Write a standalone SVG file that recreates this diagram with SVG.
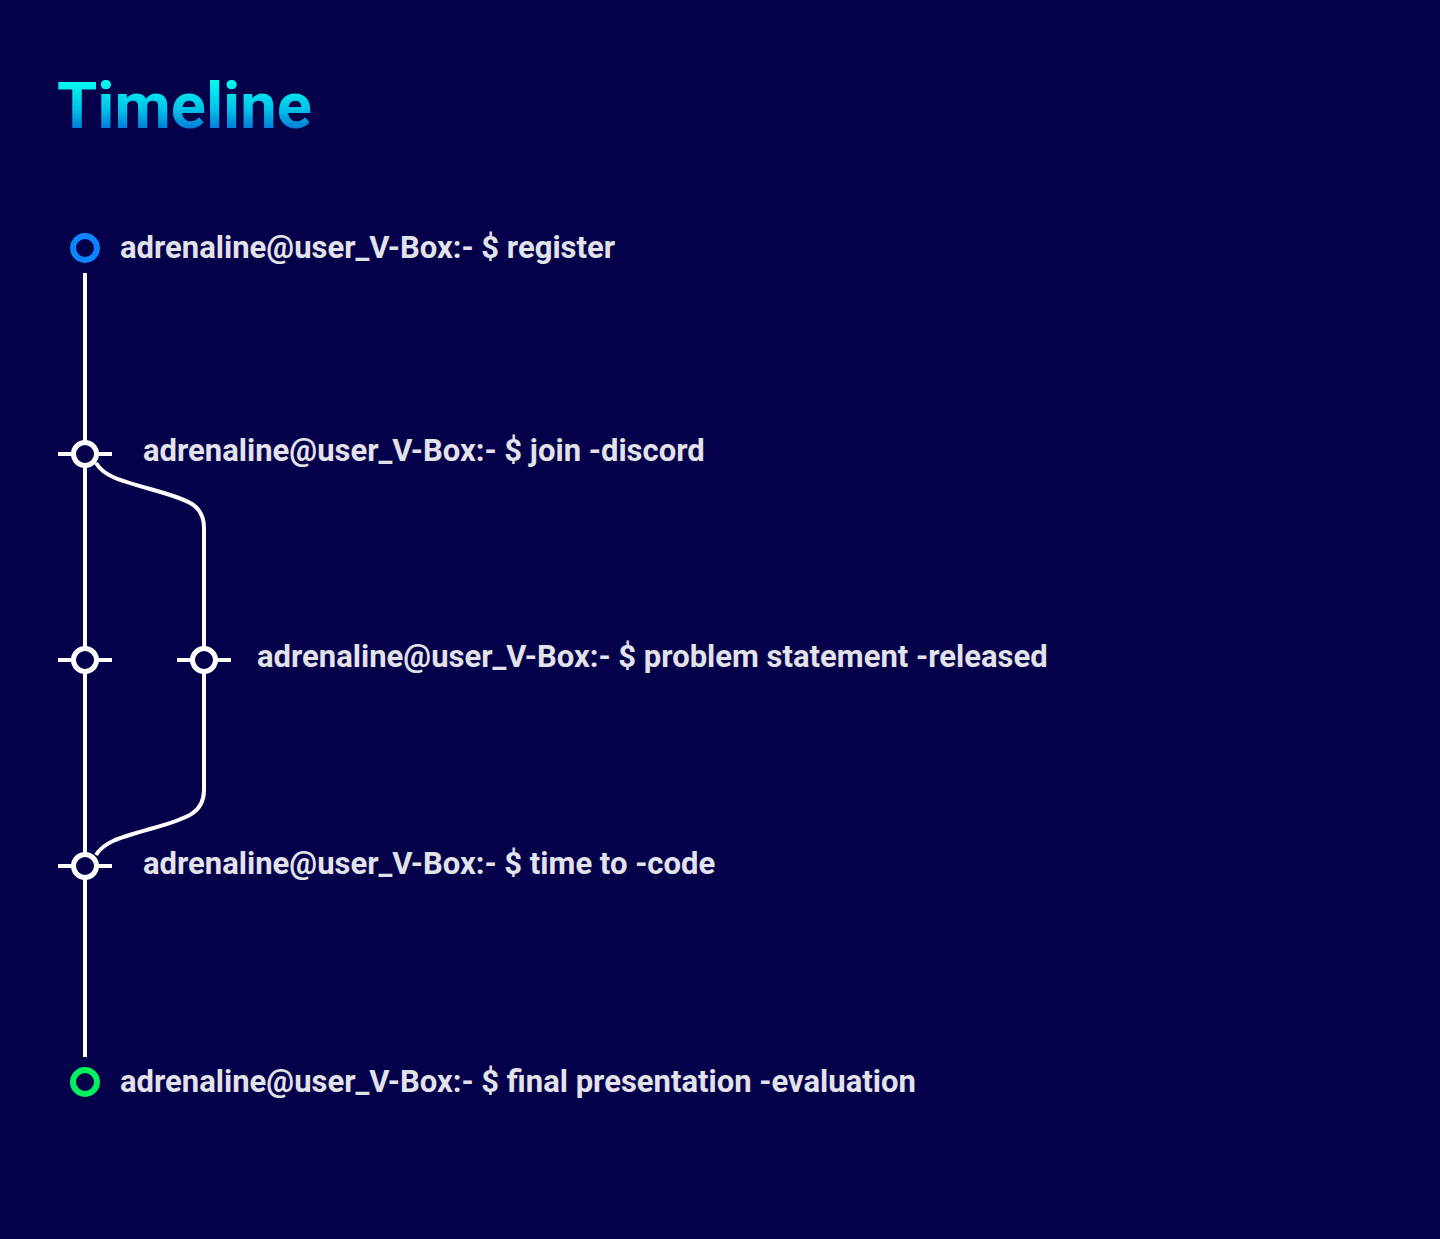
<svg xmlns="http://www.w3.org/2000/svg" width="1440" height="1239" viewBox="0 0 1440 1239">
<defs>
<linearGradient id="tg" x1="0" y1="0" x2="0" y2="1">
<stop offset="0.15" stop-color="#00FFF0"/>
<stop offset="0.55" stop-color="#00C0E8"/>
<stop offset="0.95" stop-color="#0050CC"/>
</linearGradient>
</defs>
<style>
.lbl{font-family:Roboto,"Liberation Sans",sans-serif;font-weight:700;font-size:31px;fill:#E2E2EA}
.ln{stroke:#FFFFFF;stroke-width:4;fill:none}
.tick{stroke:#FFFFFF;stroke-width:4}
.jn{fill:#05004A;stroke:#FFFFFF;stroke-width:5}
</style>
<rect width="1440" height="1239" fill="#05004A"/>
<text x="57" y="128" font-family="Roboto,'Liberation Sans',sans-serif" font-weight="700" font-size="65" fill="url(#tg)">Timeline</text>
<g id="connectors">
<line class="ln" x1="85" y1="273" x2="85" y2="1057"/>
<path class="ln" d="M96,463 C104,476 118,480 150,489 C190,500 204,505 204,528 L204,790 C204,812 190,818 150,829 C118,838 104,842 96,855"/>
</g>
<g id="n1">
<circle cx="85" cy="248" r="12" fill="none" stroke="#0A84FF" stroke-width="6"/>
<text class="lbl" x="120" y="258">adrenaline@user_V-Box:- $ register</text>
</g>
<g id="n2">
<line class="tick" x1="58" y1="454" x2="112" y2="454"/>
<circle class="jn" cx="85" cy="454" r="11.5"/>
<text class="lbl" x="143" y="461">adrenaline@user_V-Box:- $ join -discord</text>
</g>
<g id="n3a">
<line class="tick" x1="58" y1="660" x2="112" y2="660"/>
<circle class="jn" cx="85" cy="660" r="11.5"/>
</g>
<g id="n3">
<line class="tick" x1="177" y1="660" x2="231" y2="660"/>
<circle class="jn" cx="204" cy="660" r="11.5"/>
<text class="lbl" x="257" y="667">adrenaline@user_V-Box:- $ problem statement -released</text>
</g>
<g id="n4">
<line class="tick" x1="58" y1="866" x2="112" y2="866"/>
<circle class="jn" cx="85" cy="866" r="11.5"/>
<text class="lbl" x="143" y="874">adrenaline@user_V-Box:- $ time to -code</text>
</g>
<g id="n5">
<circle cx="85" cy="1082" r="12" fill="none" stroke="#00F060" stroke-width="6"/>
<text class="lbl" x="120" y="1092">adrenaline@user_V-Box:- $ final presentation -evaluation</text>
</g>
</svg>
